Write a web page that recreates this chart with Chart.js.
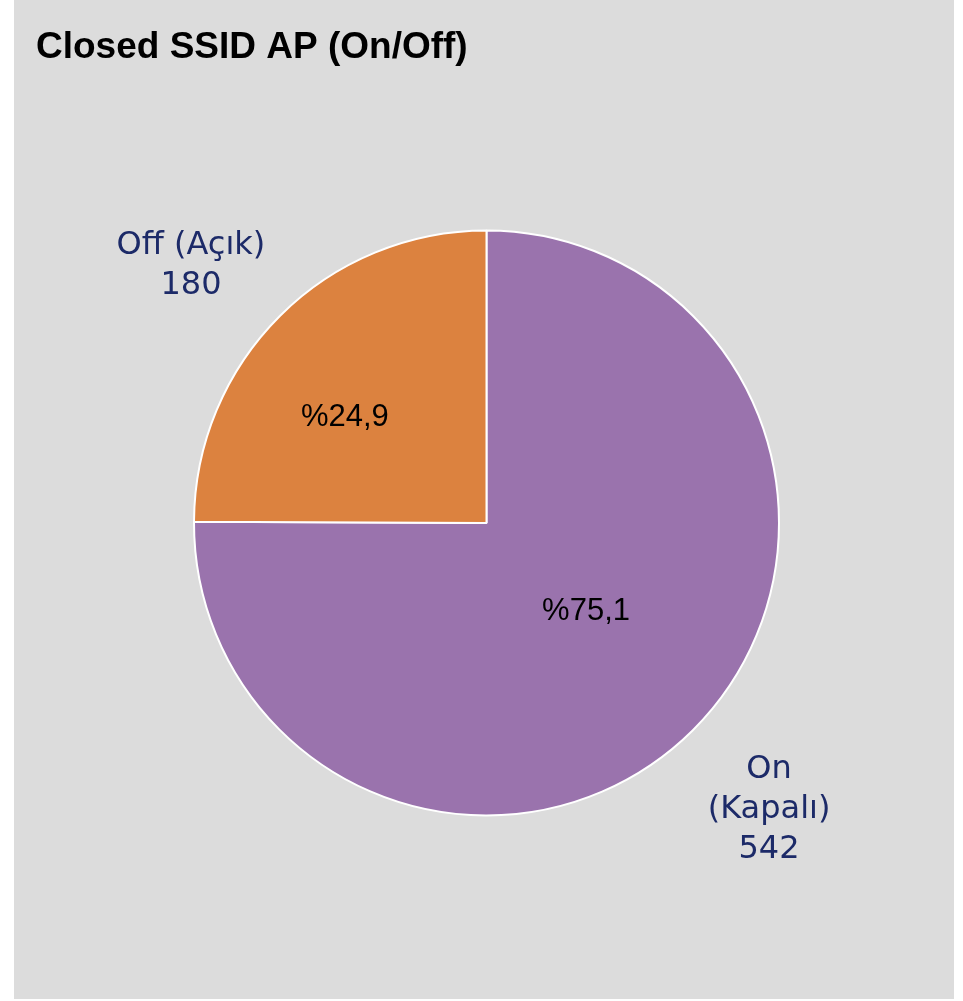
<!DOCTYPE html>
<html>
<head>
<meta charset="utf-8">
<script src="https://cdn.jsdelivr.net/npm/chart.js@4/dist/chart.umd.min.js"></script>
<style>
	html, body { margin: 0; padding: 0; background: #ffffff; }
	#panel { position: absolute; left: 14px; top: 0; width: 940px; height: 999px; background: #dcdcdc; }
	#chart { display: block; }
</style>
</head>
<body>
<div id="panel"><canvas id="chart" width="940" height="999"></canvas></div>
<script>
// --- Data ---
const categories = ['On (Kapalı)', 'Off (Açık)'];
const categoryLines = [['On', '(Kapalı)'], ['Off (Açık)']];
const values = [542, 180];

const total = values.reduce((a, b) => a + b, 0);
const percentText = v => '%' + (v / total * 100).toFixed(1).replace('.', ',');

// Draws the category/value labels outside and the percentages inside the slices
const pieLabels = {
	id: 'pieLabels',
	afterDatasetsDraw(chart, args, opts) {
		const ctx = chart.ctx;
		const arcs = chart.getDatasetMeta(0).data;
		arcs.forEach((arc, i) => {
			const p = arc.getProps(['x', 'y', 'startAngle', 'endAngle', 'outerRadius']);
			const mid = (p.startAngle + p.endAngle) / 2;

			// outside label: box corner nearest the pie sits on the anchor
			const lines = categoryLines[i].concat([String(values[i])]);
			ctx.save();
			ctx.font = opts.outerFont;
			ctx.fillStyle = opts.outerColor;
			ctx.textAlign = 'center';
			ctx.textBaseline = 'middle';
			const w = Math.max(...lines.map(l => ctx.measureText(l).width));
			const h = lines.length * opts.lineHeight;
			const ax = p.x + Math.cos(mid) * (p.outerRadius + opts.gap);
			const ay = p.y + Math.sin(mid) * (p.outerRadius + opts.gap) + opts.dy;
			const left = Math.cos(mid) < 0 ? ax - w : ax;
			const top = Math.sin(mid) < 0 ? ay - h : ay;
			lines.forEach((l, j) => {
				ctx.fillText(l, left + w / 2, top + opts.lineHeight * (j + 0.5));
			});

			// inside percentage
			const ins = opts.inside[i];
			const a = mid + ins.shift * Math.PI / 180;
			ctx.font = opts.innerFont;
			ctx.fillStyle = opts.innerColor;
			ctx.fillText(percentText(values[i]),
				p.x + Math.cos(a) * p.outerRadius * ins.r,
				p.y + Math.sin(a) * p.outerRadius * ins.r);
			ctx.restore();
		});
	}
};

new Chart(document.getElementById('chart'), {
	type: 'pie',
	data: {
		labels: categories,
		datasets: [{
			data: values,
			backgroundColor: ['#9a73ad', '#dc823f'],
			borderColor: '#ffffff',
			borderWidth: 2
		}]
	},
	options: {
		responsive: false,
		animation: false,
		layout: { padding: { left: 22, right: 17, top: 0, bottom: 182.5 } },
		plugins: {
			legend: { display: false },
			tooltip: { enabled: false },
			title: {
				display: true,
				text: 'Closed SSID AP (On/Off)',
				align: 'start',
				color: '#000000',
				font: { family: '"Liberation Sans", Arial, sans-serif', size: 37, weight: 'bold', lineHeight: 1.2 },
				padding: { top: 26, bottom: 159.1 }
			},
			pieLabels: {
				outerFont: '32px "DejaVu Sans", Verdana, sans-serif',
				outerColor: '#1c2a68',
				lineHeight: 40,
				gap: 21,
				dy: 5,
				innerFont: '31px "Liberation Sans", Arial, sans-serif',
				innerColor: '#000000',
				inside: [{ r: 0.456, shift: -3.4 }, { r: 0.604, shift: -8.4 }]
			}
		}
	},
	plugins: [pieLabels]
});
</script>
</body>
</html>
